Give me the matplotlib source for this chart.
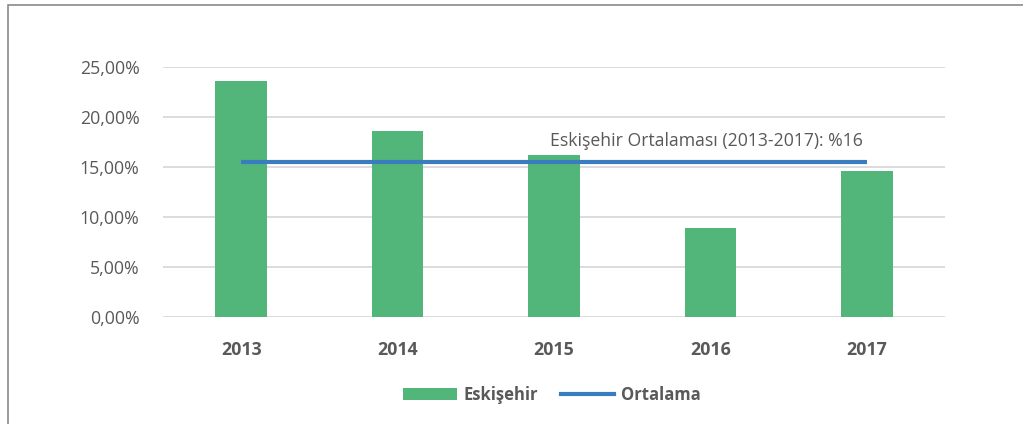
import matplotlib
matplotlib.use("Agg")
import matplotlib.pyplot as plt
from matplotlib.patches import Patch, Rectangle
from matplotlib.lines import Line2D
from matplotlib.ticker import FuncFormatter

years = ["2013", "2014", "2015", "2016", "2017"]
eskisehir = [0.2356, 0.1857, 0.1618, 0.0890, 0.1460]
ortalama = [0.1555, 0.1555, 0.1555, 0.1555, 0.1555]
yticks = [0.0, 0.05, 0.10, 0.15, 0.20, 0.25]
annot_text = "Eskişehir Ortalaması (2013-2017): %16"

GREEN = "#52b57a"
BLUE = "#3a7dbf"
GRAY_TXT = "#595959"

plt.rcParams['font.family'] = ['Open Sans', 'DejaVu Sans']

fig = plt.figure(figsize=(10.23, 4.24), dpi=100)
ax = fig.add_axes([163/1023, 1-317.3/424, (945-163)/1023, (317.3-67)/424])

x = list(range(len(years)))
ax.bar(x, eskisehir, width=0.33, color=GREEN, zorder=2, label="Eskişehir")
ax.plot(x, ortalama, color=BLUE, lw=3, zorder=3, label="Ortalama", solid_capstyle='butt')

ax.set_xlim(-0.5, len(years) - 0.5)
ax.set_ylim(0, 0.25)
ax.set_yticks(yticks)
ax.yaxis.set_major_formatter(FuncFormatter(lambda v, p: f"{v*100:.2f}%".replace(".", ",")))
ax.set_xticks(x)
ax.set_xticklabels(years, fontweight='bold')
ax.tick_params(axis='both', length=0, labelsize=12.8, labelcolor=GRAY_TXT)
ax.tick_params(axis='y', pad=17)
ax.tick_params(axis='x', pad=17)
ax.grid(axis='y', color="#d9d9d9", lw=1.3, zorder=0)
ax.set_axisbelow(True)
for s in ax.spines.values():
    s.set_visible(False)

ax.text(2.975, 0.1758, annot_text, ha='center', va='center', fontsize=12.7, color=GRAY_TXT)

handles = [Patch(facecolor=GREEN, edgecolor='none'),
           Line2D([0], [0], color=BLUE, lw=3)]
leg = fig.legend(handles, ["Eskişehir", "Ortalama"], loc='center',
                 bbox_to_anchor=(552/1023, 1-395/424), ncol=2, frameon=False,
                 handlelength=3.2, handleheight=0.78, handletextpad=0.4,
                 columnspacing=1.4, prop={'size': 12, 'weight': 'bold'})
for t in leg.get_texts():
    t.set_color(GRAY_TXT)

# outer border (left and top visible)
fig.patches.append(Rectangle((8/1023, -0.1), 1.2, 1 - 5/424 + 0.1, transform=fig.transFigure,
                             fill=False, edgecolor="#8a8a8a", lw=1.2))

fig.savefig("out.png", dpi=100)
